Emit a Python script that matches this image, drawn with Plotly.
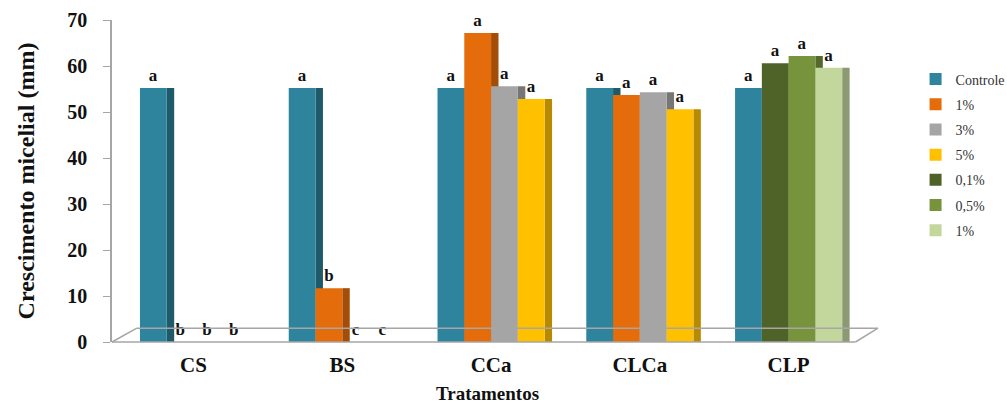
import plotly.graph_objects as go

categories = ["CS", "BS", "CCa", "CLCa", "CLP"]
controle = [55.2, 55.2, 55.2, 55.2, 55.2]
pct1 = [0, 11.7, 67.2, 53.7, None]
pct3 = [0, 0, 55.6, 54.3, None]
pct5 = [0, 0, 52.8, 50.6, None]
p01 = [None, None, None, None, 60.6]
p05 = [None, None, None, None, 62.2]
p1b = [None, None, None, None, 59.6]

lab_controle = ["a", "a", "a", "a", "a"]
lab_pct1 = ["b", "b", "a", "a", ""]
lab_pct3 = ["b", "c", "a", "a", ""]
lab_pct5 = ["b", "c", "a", "a", ""]
lab_p01 = ["", "", "", "", "a"]
lab_p05 = ["", "", "", "", "a"]
lab_p1b = ["", "", "", "", "a"]

# name, values, letters, front colour, side colour, slot in group
series = [
    ("Controle", controle, lab_controle, "#2E849C", "#1F5A6B", 0),
    ("1%", pct1, lab_pct1, "#E46C0A", "#A44D06", 1),
    ("3%", pct3, lab_pct3, "#A5A5A5", "#767676", 2),
    ("5%", pct5, lab_pct5, "#FFC000", "#B88A00", 3),
    ("0,1%", p01, lab_p01, "#4F6228", "#36451A", 1),
    ("0,5%", p05, lab_p05, "#77933C", "#55692A", 2),
    ("1%", p1b, lab_p1b, "#C3D69B", "#8C9A74", 3),
]

SERIF = "Liberation Serif, Times New Roman, serif"
W = 0.18       # front-face width (category units)
DEPTH = 0.05   # visible side depth

fig = go.Figure()
# side faces (drawn first, behind the fronts)
for name, vals, labs, col, side, k in series:
    fig.add_trace(go.Bar(
        x=categories, y=vals, offset=(k - 1) * W, width=DEPTH,
        marker=dict(color=side, line=dict(width=0)),
        showlegend=False, hoverinfo="skip",
    ))
# front faces
for i, (name, vals, labs, col, side, k) in enumerate(series):
    fig.add_trace(go.Bar(
        x=categories, y=vals, name=name, offset=(k - 2) * W, width=W,
        marker=dict(color=col, line=dict(width=0)),
        text=[f"<b>{t}</b>" if t else "" for t in labs],
        textposition="outside", cliponaxis=False,
        textfont=dict(family=SERIF, size=17, color="#111111"),
        legendgroup=f"g{i}",
    ))

floor = dict(color="#A6A6A6", width=1.5)
fig.update_layout(
    width=1007, height=405,
    margin=dict(l=112, r=144, t=20, b=63, autoexpand=False),
    barmode="overlay",
    plot_bgcolor="white", paper_bgcolor="white",
    font=dict(family=SERIF, color="#111111"),
    showlegend=True,
    legend=dict(x=1.07, y=0.865, xanchor="left", yanchor="top",
                font=dict(family=SERIF, size=14, color="#333333"),
                tracegroupgap=4, bgcolor="rgba(0,0,0,0)"),
    shapes=[
        dict(type="line", xref="paper", yref="paper", x0=0, y0=0, x1=0.99, y1=0, line=floor),
        dict(type="line", xref="paper", yref="paper", x0=0, y0=0, x1=0.033, y1=0.043, line=floor),
        dict(type="line", xref="paper", yref="paper", x0=0.033, y0=0.043, x1=1.02, y1=0.043, line=floor),
        dict(type="line", xref="paper", yref="paper", x0=0.99, y0=0, x1=1.02, y1=0.043, line=floor),
    ],
)

fig.update_yaxes(
    range=[0, 70], dtick=10, showgrid=False, zeroline=False, automargin=False,
    showline=True, linecolor="#A6A6A6", linewidth=1.5,
    ticks="outside", ticklen=7, tickcolor="#A6A6A6", ticklabelstandoff=12,
    tickfont=dict(family=SERIF, size=20, color="#111111", weight="bold"),
    title=dict(text="<b>Crescimento micelial (mm)</b>",
               font=dict(family=SERIF, size=24, color="#111111"), standoff=26),
)
fig.update_xaxes(
    range=[-0.548, 4.5], showgrid=False, showline=False, zeroline=False, automargin=False,
    ticks="", ticklabelstandoff=8,
    tickfont=dict(family=SERIF, size=21, color="#111111", weight="bold"),
    title=dict(text="<b>Tratamentos</b>",
               font=dict(family=SERIF, size=19, color="#111111"), standoff=10),
)

fig.write_html("out.html", config={"displayModeBar": False},
               post_script="document.body.style.margin='0';")
